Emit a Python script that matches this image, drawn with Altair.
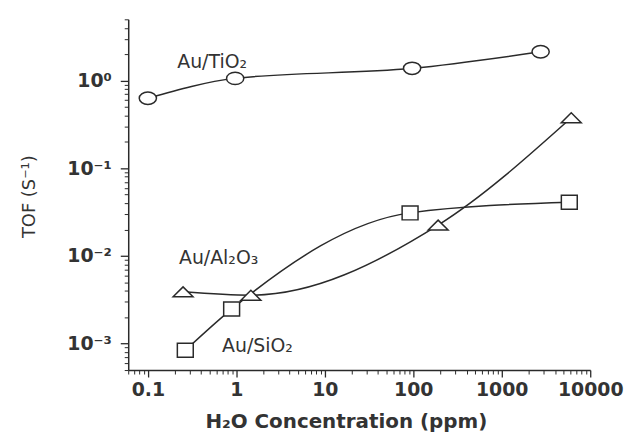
import altair as alt
import pandas as pd

# --- data ---
ti_x = [0.1, 0.97, 97, 2750]
ti_y = [0.63, 1.06, 1.38, 2.13]
al_x = [0.25, 1.46, 191, 6100]
al_y = [0.0039, 0.00357, 0.0225, 0.377]
si_x = [0.265, 0.885, 92, 5800]
si_y = [0.00084, 0.00248, 0.031, 0.041]

x_major = [0.1, 1, 10, 100, 1000, 10000]
y_major = [1, 0.1, 0.01, 0.001]
x_minor = [m * 10.0 ** e for e in range(-2, 4) for m in range(2, 10)
           if 0.06 <= m * 10.0 ** e <= 10000]
y_minor = [m * 10.0 ** e for e in range(-4, 1) for m in range(2, 10)
           if 0.0005 <= m * 10.0 ** e <= 5]

labels_text = ["Au/TiO₂", "Au/Al₂O₃", "Au/SiO₂"]
labels_x = [0.215, 0.225, 0.69]
labels_y = [1.38, 0.0081, 0.00081]

ELLIPSE = "M-1,0A1,0.72,0,1,0,1,0A1,0.72,0,1,0,-1,0Z"
TRI = "M-1,0.5L1,0.5L0,-0.5Z"
SQR = "M-1,-0.88L1,-0.88L1,0.88L-1,0.88Z"

df_ti = pd.DataFrame({"x": ti_x, "y": ti_y})
df_al = pd.DataFrame({"x": al_x, "y": al_y})
df_si = pd.DataFrame({"x": si_x, "y": si_y})
df_lab = pd.DataFrame({"x": labels_x, "y": labels_y, "t": labels_text})

xs = alt.Scale(type="log", domain=[0.06, 10000], nice=False)
ys = alt.Scale(type="log", domain=[0.0005, 5], nice=False)

FONT = "DejaVu Sans"
COL = "#2a2a2a"

x_axis_major = alt.Axis(
    orient="bottom", values=x_major, format="~g", grid=False,
    tickSize=7, tickWidth=1.3, tickColor=COL, domainColor=COL, domainWidth=1.5,
    labelFont=FONT, labelFontSize=19, labelFontWeight="bold", labelColor="#333",
    labelPadding=4, labelFlush=False, labelOverlap=False,
    title="H₂O Concentration (ppm)", titleFont=FONT, titleFontSize=20,
    titleFontWeight="bold", titleColor="#333", titleX=219, titleY=58,
    titleAnchor="middle", titleAlign="center", titleBaseline="alphabetic",
)
y_axis_major = alt.Axis(
    orient="left", values=y_major, grid=False,
    labelExpr="datum.value >= 0.5 ? '10⁰' : datum.value >= 0.05 ? '10⁻¹' : datum.value >= 0.005 ? '10⁻²' : '10⁻³'",
    tickSize=8, tickWidth=1.3, tickColor=COL, domainColor=COL, domainWidth=1.5,
    labelFont=FONT, labelFontSize=19, labelFontWeight="bold", labelColor="#333",
    labelPadding=9, labelOverlap=False, labelFlush=False,
    title="TOF (S⁻¹)", titleFont=FONT, titleFontSize=18, titleFontWeight="normal",
    titleColor="#333", titleX=-99, titleY=178, titleAngle=-90,
    titleAlign="center", titleBaseline="middle", titleAnchor="middle",
)


def xy(axis_x=None, axis_y=None):
    return dict(x=alt.X("x:Q", scale=xs, axis=axis_x), y=alt.Y("y:Q", scale=ys, axis=axis_y))


line_ti = alt.Chart(df_ti).mark_line(interpolate="monotone", color=COL, strokeWidth=1.5).encode(
    **xy(x_axis_major, y_axis_major))
line_al = alt.Chart(df_al).mark_line(interpolate="monotone", color=COL, strokeWidth=1.5).encode(**xy())
line_si = alt.Chart(df_si).mark_line(interpolate="monotone", color=COL, strokeWidth=1.5).encode(**xy())


def pts(df, shape, size):
    return alt.Chart(df).mark_point(shape=shape, size=size, filled=True, fill="white",
                                    stroke=COL, strokeWidth=1.5, opacity=1).encode(**xy())


pts_ti = pts(df_ti, ELLIPSE, 300)
pts_al = pts(df_al, TRI, 400)
pts_si = pts(df_si, SQR, 256)

labs = alt.Chart(df_lab).mark_text(align="left", baseline="alphabetic", font=FONT, fontSize=19,
                                   color="#333").encode(**xy(), text="t:N")

# minor ticks (separate axes, no labels)
minor = alt.Chart(pd.DataFrame({"x": [0.1], "y": [1]})).mark_point(opacity=0).encode(
    x=alt.X("x:Q", scale=xs, axis=alt.Axis(orient="bottom", values=x_minor, labels=False, grid=False,
                                           tickSize=4, tickWidth=1, tickColor=COL, domain=False, title=None)),
    y=alt.Y("y:Q", scale=ys, axis=alt.Axis(orient="left", values=y_minor, labels=False, grid=False,
                                           tickSize=4, tickWidth=1, tickColor=COL, domain=False, title=None)),
)

chart = alt.layer(line_ti, line_al, line_si, pts_ti, pts_al, pts_si, labs, minor).resolve_axis(
    x="independent", y="independent"
).properties(
    width=465, height=353,
    padding={"left": 121, "top": 10, "right": 36, "bottom": 64},
    autosize=alt.AutoSizeParams(type="none"),
    background="white",
).configure_view(stroke=None)

chart.save("out.html", embed_options={"renderer": "svg", "actions": False})
